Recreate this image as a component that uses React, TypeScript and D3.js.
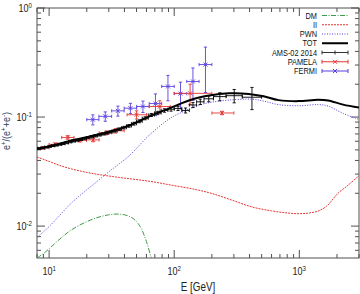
import React, { useRef, useEffect } from "react";
import * as d3 from "d3";

// Model curves (E in GeV, positron fraction)
const dmE = [8, 9, 10, 12, 15, 20, 25, 30, 35, 40, 45, 50, 55, 60, 65, 68];
const dmV = [0.0051, 0.0056, 0.0062, 0.0075, 0.0092, 0.0110, 0.0121, 0.0127, 0.0129, 0.0127, 0.0121, 0.0110, 0.0093, 0.0072, 0.0053, 0.0045];

const iiE = [8, 10, 12, 15, 20, 25, 36.6, 63, 96, 150, 200, 290, 417, 600, 800, 1000, 1200, 1400, 1650, 2030, 2450, 3000];
const iiV = [0.0430, 0.0392, 0.0362, 0.0335, 0.0311, 0.0297, 0.0279, 0.0258, 0.0237, 0.0216, 0.0199, 0.0173, 0.0150, 0.0138, 0.0132, 0.0130, 0.0132, 0.0137, 0.0152, 0.0199, 0.0237, 0.0290];

const pwnE = [8, 10, 15, 20, 25, 30, 36.6, 44, 63, 91, 110, 158, 200, 273, 420, 520, 683, 1000, 1414, 1700, 2240, 3000];
const pwnV = [0.0079, 0.0099, 0.0162, 0.0215, 0.0265, 0.0315, 0.0375, 0.0445, 0.068, 0.096, 0.108, 0.1285, 0.137, 0.143, 0.146, 0.140, 0.130, 0.127, 0.130, 0.126, 0.108, 0.095];

const totE = [8, 10.2, 14.6, 21.1, 30.5, 44, 63.4, 91, 110, 131, 158, 190, 273, 394, 519, 683, 981, 1414, 1700, 2240, 3000];
const totV = [0.0512, 0.0540, 0.0605, 0.0665, 0.0732, 0.0839, 0.1015, 0.120, 0.131, 0.142, 0.151, 0.158, 0.165, 0.163, 0.155, 0.143, 0.140, 0.144, 0.142, 0.130, 0.122];

// AMS-02 2014 (bin edges, values, errors)
const amsEdges = [8.0, 8.6, 9.2, 9.8, 10.4, 11.1, 11.8, 12.6, 13.4, 14.3, 15.2, 16.2, 17.3, 18.5, 19.8, 21.2, 22.7, 24.3, 26.1, 28.0, 30.1, 32.4, 35.0, 38.0, 41.5, 45.5, 50.0, 55.5, 62.0, 69.5, 78.5, 89.0, 100, 115, 132, 151, 173, 206, 260, 350, 500];
const amsV = [0.0515, 0.0522, 0.0530, 0.0538, 0.0545, 0.0553, 0.0562, 0.0570, 0.0580, 0.0592,
  0.0602, 0.0612, 0.0622, 0.0633, 0.0648, 0.0660, 0.0672, 0.0685, 0.0700, 0.0715,
  0.0732, 0.0750, 0.0775, 0.0800, 0.0830, 0.0870, 0.0915, 0.0975, 0.1045, 0.1090,
  0.1150, 0.1180, 0.1200, 0.1150, 0.1290, 0.1380, 0.1470, 0.1540, 0.1570, 0.1520];
const amsErr = [0.0008, 0.0008, 0.0008, 0.0009, 0.0009, 0.0009, 0.0010, 0.0010, 0.0010, 0.0011,
  0.0011, 0.0012, 0.0012, 0.0013, 0.0013, 0.0014, 0.0014, 0.0015, 0.0016, 0.0017,
  0.0018, 0.0019, 0.0020, 0.0022, 0.0024, 0.0026, 0.0028, 0.0031, 0.0034, 0.0038,
  0.0042, 0.0047, 0.0053, 0.0060, 0.0068, 0.0078, 0.0090, 0.0130, 0.0220, 0.0350];

// PAMELA
const pamLo = [8.1, 10.0, 12.6, 15.8, 19.9, 25.1, 31.6, 42, 63, 100, 200];
const pamHi = [10.0, 12.6, 15.8, 19.9, 25.1, 31.6, 39.8, 60, 93, 200, 300];
const pamE = [9.0, 11.2, 14.1, 17.6, 22.5, 28.7, 34.0, 50.0, 76.7, 134, 241];
const pamV = [0.0522, 0.0562, 0.065, 0.0612, 0.0618, 0.0717, 0.0748, 0.105, 0.125, 0.165, 0.109];
const pamErr = [0.0015, 0.0017, 0.0025, 0.0022, 0.0025, 0.003, 0.0035, 0.009, 0.016, 0.035, 0.004];

// FERMI
const fermiEdges = [20, 25, 31.6, 39.8, 50.1, 63.1, 79.4, 100, 126, 158, 200];
const fermiV = [0.0947, 0.1015, 0.114, 0.1206, 0.125, 0.133, 0.191, 0.164, 0.212, 0.303];
const fermiErr = [0.010, 0.010, 0.012, 0.013, 0.015, 0.030, 0.050, 0.045, 0.070, 0.135];

const legendNames = ["DM", "II", "PWN", "TOT", "AMS-02 2014", "PAMELA", "FERMI"];

const FONT = "'Liberation Sans', Arial, sans-serif";
const RED = "#e53535";
const BLUE = "#5a3ee0";
const GREEN = "#3f9a4a";
const AXIS = "#505050";
const SX = 0.82; // narrow the text like the original's condensed font

const App = () => {
  const svgRef = useRef<SVGSVGElement>(null);

  useEffect(() => {
    const svg = d3.select(svgRef.current);
    svg.selectAll("*").remove();

    const x = d3.scaleLog().domain([8, 3000]).range([37, 359]);
    const y = d3.scaleLog().domain([0.0051, 1]).range([258, 8]);
    const [x0, x1] = x.range();
    const [y0, y1] = y.range();

    svg.append("defs").append("clipPath").attr("id", "plot")
      .append("rect").attr("x", x0).attr("y", y1).attr("width", x1 - x0).attr("height", y0 - y1);

    // Frame
    svg.append("rect")
      .attr("x", x0).attr("y", y1).attr("width", x1 - x0).attr("height", y0 - y1)
      .attr("fill", "none").attr("stroke", AXIS).attr("stroke-width", 1);

    // Ticks (all four sides, pointing in)
    const ticks = svg.append("g").attr("stroke", AXIS).attr("stroke-width", 1);
    for (let d = 0; d <= 3; d++) {
      for (let k = 1; k <= 9; k++) {
        const v = k * Math.pow(10, d);
        if (v < 8 || v > 3000) continue;
        const len = k === 1 ? 8 : 4;
        const px = x(v);
        ticks.append("line").attr("x1", px).attr("x2", px).attr("y1", y0).attr("y2", y0 - len);
        ticks.append("line").attr("x1", px).attr("x2", px).attr("y1", y1).attr("y2", y1 + len);
      }
    }
    for (let d = -3; d <= 0; d++) {
      for (let k = 1; k <= 9; k++) {
        const v = k * Math.pow(10, d);
        if (v < 0.0051 || v > 1.0001) continue;
        const len = k === 1 ? 8 : 4;
        const py = y(v);
        ticks.append("line").attr("x1", x0).attr("x2", x0 + len).attr("y1", py).attr("y2", py);
        ticks.append("line").attr("x1", x1).attr("x2", x1 - len).attr("y1", py).attr("y2", py);
      }
    }

    // Tick labels
    const labels = svg.append("g").attr("font-family", FONT).attr("fill", "#222");
    const power = (px: number, py: number, e: number, anchor: string) => {
      const t = labels.append("text").attr("transform", `translate(${px},${py}) scale(${SX},1)`)
        .attr("text-anchor", anchor).attr("font-size", 11);
      t.append("tspan").text("10");
      t.append("tspan").attr("dy", -4.5).attr("font-size", 7.5).text(String(e));
    };
    [1, 2, 3].forEach(e => power(x(Math.pow(10, e)), 275, e, "middle"));
    [0, -1, -2].forEach(e => power(32, y(Math.pow(10, e)) + 4, e, "end"));

    // Axis titles
    svg.append("text").attr("transform", `translate(198,291) scale(${SX},1)`).attr("text-anchor", "middle")
      .attr("font-family", FONT).attr("font-size", 12).attr("fill", "#222").text("E [GeV]");
    const yt = svg.append("text").attr("transform", `translate(10,131) rotate(-90) scale(${SX},1)`)
      .attr("text-anchor", "middle").attr("font-family", FONT).attr("font-size", 11).attr("fill", "#2c4560");
    yt.append("tspan").text("e");
    yt.append("tspan").attr("dy", -4).attr("font-size", 7.5).text("+");
    yt.append("tspan").attr("dy", 4).text("/(e");
    yt.append("tspan").attr("dy", -4).attr("font-size", 7.5).text("+");
    yt.append("tspan").attr("dy", 4).text("+e");
    yt.append("tspan").attr("dy", -4).attr("font-size", 7.5).text("-");
    yt.append("tspan").attr("dy", 4).text(")");

    const plot = svg.append("g").attr("clip-path", "url(#plot)");

    const curve = (E: number[], V: number[], color: string, width: number, dash: string | null) => {
      const line = d3.line<number>()
        .x((_, i) => x(E[i])).y((_, i) => y(V[i]))
        .curve(d3.curveCatmullRom.alpha(0.5));
      const p = plot.append("path").datum(E).attr("d", line)
        .attr("fill", "none").attr("stroke", color).attr("stroke-width", width);
      if (dash) p.attr("stroke-dasharray", dash);
    };
    curve(dmE, dmV, GREEN, 1, "5,1.5,1,1.5");
    curve(iiE, iiV, RED, 1, "2,1");
    curve(pwnE, pwnV, BLUE, 1, "1,1.5");

    // error bar helper
    const errBar = (g: any, lo: number, hi: number, e: number, v: number, err: number, color: string, cross: boolean) => {
      const cx = x(e), cy = y(v);
      const yA = y(v + err), yB = y(Math.max(v - err, 0.0052));
      const xa = x(lo), xb = x(hi);
      const cap = 1.6;
      const seg = (ax: number, ay: number, bx: number, by: number) =>
        g.append("line").attr("x1", ax).attr("y1", ay).attr("x2", bx).attr("y2", by)
          .attr("stroke", color).attr("stroke-width", 0.9);
      seg(cx, yA, cx, yB);
      seg(xa, cy, xb, cy);
      seg(cx - cap, yA, cx + cap, yA);
      seg(cx - cap, yB, cx + cap, yB);
      seg(xa, cy - cap, xa, cy + cap);
      seg(xb, cy - cap, xb, cy + cap);
      if (cross) {
        const s = 2;
        seg(cx - s, cy - s, cx + s, cy + s);
        seg(cx - s, cy + s, cx + s, cy - s);
      }
    };

    const pts = plot.append("g");
    fermiV.forEach((v, i) => {
      const lo = fermiEdges[i], hi = fermiEdges[i + 1];
      errBar(pts, lo, hi, Math.sqrt(lo * hi), v, fermiErr[i], BLUE, true);
    });
    pamV.forEach((v, i) => errBar(pts, pamLo[i], pamHi[i], pamE[i], v, pamErr[i], RED, true));

    curve(totE, totV, "#000", 2, null);

    amsV.forEach((v, i) => {
      const lo = amsEdges[i], hi = amsEdges[i + 1];
      errBar(pts, lo, hi, Math.sqrt(lo * hi), v, amsErr[i], "#000", false);
    });

    // Legend
    const lg = svg.append("g").attr("font-family", FONT).attr("font-size", 9).attr("fill", "#111");
    const lx0 = 322, lx1 = 348;
    legendNames.forEach((name, i) => {
      const ly = 15.5 + i * 9.25;
      lg.append("text").attr("transform", `translate(317,${ly + 3.2}) scale(${SX},1)`)
        .attr("text-anchor", "end").text(name);
      const seg = (ax: number, ay: number, bx: number, by: number, color: string, w = 1) =>
        lg.append("line").attr("x1", ax).attr("y1", ay).attr("x2", bx).attr("y2", by)
          .attr("stroke", color).attr("stroke-width", w);
      if (i === 0) seg(lx0, ly, lx1, ly, GREEN).attr("stroke-dasharray", "5,1.5,1,1.5");
      if (i === 1) seg(lx0, ly, lx1, ly, RED).attr("stroke-dasharray", "2,1");
      if (i === 2) seg(lx0, ly, lx1, ly, BLUE).attr("stroke-dasharray", "1,1.5");
      if (i === 3) seg(lx0, ly, lx1, ly, "#000", 2);
      if (i >= 4) {
        const c = i === 4 ? "#333" : i === 5 ? RED : BLUE;
        const mid = (lx0 + lx1) / 2;
        seg(lx0, ly, lx1, ly, c);
        seg(lx0, ly - 2, lx0, ly + 2, c);
        seg(lx1, ly - 2, lx1, ly + 2, c);
        if (i === 4) seg(mid, ly - 2, mid, ly + 2, c);
        else {
          seg(mid - 2, ly - 2, mid + 2, ly + 2, c);
          seg(mid - 2, ly + 2, mid + 2, ly - 2, c);
        }
      }
    });
  }, []);

  return (
    <svg ref={svgRef} width={360} height={294}
      style={{ position: "absolute", left: 0, top: 0, background: "#fff", display: "block" }} />
  );
};

export default App;
